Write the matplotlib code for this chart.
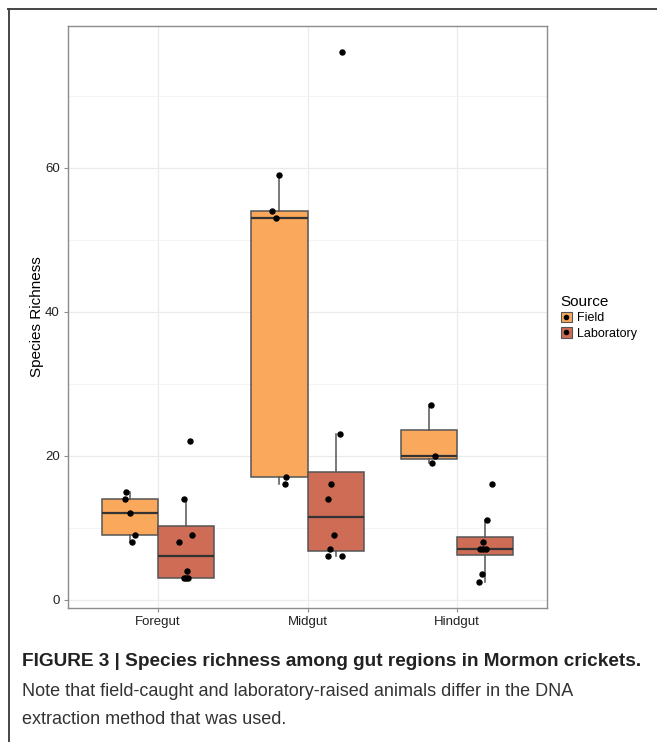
import matplotlib
matplotlib.use("Agg")
import matplotlib.pyplot as plt
from matplotlib.patches import Patch
from matplotlib.lines import Line2D

plt.rcParams['font.family'] = ['Liberation Sans', 'DejaVu Sans']

regions = ["Foregut", "Midgut", "Hindgut"]
sources = ["Field", "Laboratory"]
colors = {"Field": "#F9A85C", "Laboratory": "#CE6C56"}

# species richness per sample
field = {
    "Foregut": [15, 14, 12, 9, 8],
    "Midgut": [59, 54, 53, 17, 16],
    "Hindgut": [27, 20, 19],
}
lab = {
    "Foregut": [22, 14, 9, 8, 4, 3, 3, 3],
    "Midgut": [76, 23, 16, 14, 9, 7, 6, 6],
    "Hindgut": [16, 11, 8, 7, 7, 7, 3.5, 2.5],
}
# horizontal jitter of each point (category units), same order as above
field_jit = {
    "Foregut": [-0.022, -0.029, 0.0, 0.035, 0.015],
    "Midgut": [-0.005, -0.049, -0.025, 0.045, 0.04],
    "Hindgut": [0.011, 0.038, 0.018],
}
lab_jit = {
    "Foregut": [0.03, -0.011, 0.038, -0.049, 0.007, -0.015, 0.002, 0.015],
    "Midgut": [0.04, 0.027, -0.033, -0.049, -0.011, -0.035, -0.049, 0.04],
    "Hindgut": [0.047, 0.011, -0.015, -0.035, -0.015, 0.005, -0.022, -0.042],
}

fig = plt.figure(figsize=(6.57, 7.42), dpi=100)
ax = fig.add_axes([68 / 657, 1 - 608 / 742, 479 / 657, 582 / 742])

bw = 0.375
for i, reg in enumerate(regions):
    for src, vals, jit, off in [("Field", field, field_jit, -bw / 2),
                                ("Laboratory", lab, lab_jit, bw / 2)]:
        pos = i + 1 + off
        ax.boxplot(vals[reg], positions=[pos], widths=bw, patch_artist=True,
                   showfliers=False, showcaps=False, whis=1.5,
                   boxprops=dict(facecolor=colors[src], edgecolor="#555555", linewidth=1.1),
                   whiskerprops=dict(color="#555555", linewidth=1.1),
                   medianprops=dict(color="#333333", linewidth=1.6),
                   zorder=2)
        xs = [pos + j for j in jit[reg]]
        ax.plot(xs, vals[reg], "o", color="black", markersize=3.6, zorder=3,
                linestyle="none")

ax.set_xlim(0.4, 3.6)
ax.set_ylim(-1.175, 79.675)
ax.set_xticks([1, 2, 3])
ax.set_xticklabels(regions)
ax.set_yticks([0, 20, 40, 60])
ax.set_yticks([10, 30, 50, 70], minor=True)
ax.grid(True, which="major", color="#ebebeb", linewidth=0.9, zorder=0)
ax.grid(True, which="minor", axis="y", color="#f2f2f2", linewidth=0.6, zorder=0)
ax.set_axisbelow(True)
ax.tick_params(which="major", length=3, color="#8c8c8c", labelsize=9.5, pad=3,
               labelcolor="#222222")
ax.tick_params(which="minor", length=0)
for s in ax.spines.values():
    s.set_color("#8c8c8c")
    s.set_linewidth(1.0)
ax.set_ylabel("Species Richness", fontsize=11)
ax.yaxis.set_label_coords(-0.05, 0.5)

handles = [(Patch(facecolor=colors[s], edgecolor="#555555", linewidth=0.8),
            Line2D([], [], marker="o", color="black", markersize=3, linestyle="none"))
           for s in sources]
leg = fig.legend(handles, sources, title="Source", loc="upper left",
                 bbox_to_anchor=(552 / 657, 1 - 286 / 742), frameon=False,
                 fontsize=9, title_fontsize=11, handlelength=0.9,
                 handleheight=0.9, handletextpad=0.4, labelspacing=0.25,
                 borderpad=0.2)
leg._legend_box.align = "left"

# outer frame of the figure panel
fig.add_artist(Line2D([8 / 657, 1], [1 - 8.5 / 742, 1 - 8.5 / 742], color="#444444",
                      linewidth=1.4, transform=fig.transFigure))
fig.add_artist(Line2D([8.5 / 657, 8.5 / 657], [0, 1 - 8.5 / 742], color="#444444",
                      linewidth=1.4, transform=fig.transFigure))

fig.text(22 / 657, 1 - 662 / 742,
         "FIGURE 3 | Species richness among gut regions in Mormon crickets.",
         fontsize=13.7, fontweight="bold", color="#222222", va="center")
fig.text(22 / 657, 1 - 692 / 742,
         "Note that field-caught and laboratory-raised animals differ in the DNA",
         fontsize=13, color="#333333", va="center")
fig.text(22 / 657, 1 - 720 / 742, "extraction method that was used.",
         fontsize=13, color="#333333", va="center")

fig.savefig("out.png", dpi=100)
